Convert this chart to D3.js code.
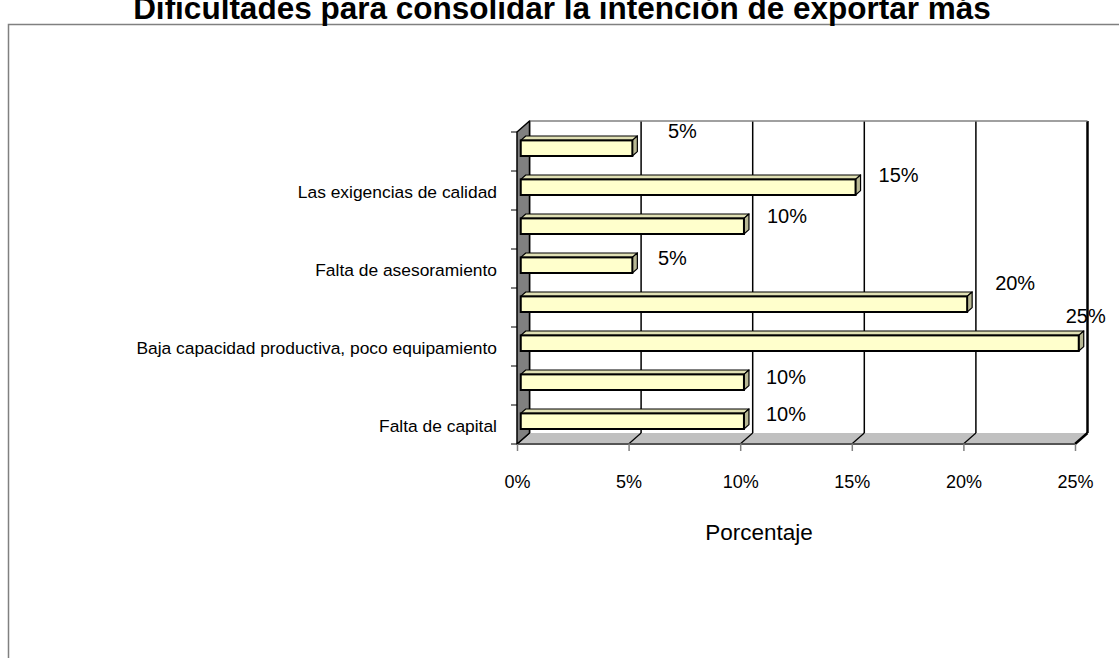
<!DOCTYPE html>
<html>
<head>
<meta charset="utf-8">
<script src="https://cdn.jsdelivr.net/npm/d3@7"></script>
<style>
  body { margin: 0; background: #fff; }
  text { font-family: Arial, "Liberation Sans", sans-serif; fill: #000; }
</style>
</head>
<body>
<div id="chart"></div>
<script>
// Data, bottom category first (as the spreadsheet lists it)
var categories = [
  "Falta de capital",
  "",
  "Baja capacidad productiva, poco equipamiento",
  "",
  "Falta de asesoramiento",
  "",
  "Las exigencias de calidad",
  ""
]
var values = [10, 10, 25, 20, 5, 10, 15, 5]
var xTicks = [0, 5, 10, 15, 20, 25]
var title = "Dificultades para consolidar la intención de exportar más"
var xTitle = "Porcentaje"

// label nudges (px) relative to the end of each bar, same order as values
var labelNudge = [[37, -7], [37, -5], [2, -27], [43, -21], [35, -7], [38, -10], [38, -12], [45, -17]]

var W = 1119, H = 658
var depth = { dx: 12.5, dy: -11 }
var barDepth = { front: 0.3, back: 0.7 }

var svg = d3.select("#chart").append("svg")
  .attr("width", W)
  .attr("height", H)

var x = d3.scaleLinear().domain([0, 25]).range([517, 1075])
// top of the plot is the last category
var y = d3.scaleBand()
  .domain(d3.range(categories.length).reverse())
  .range([132, 444])
  .paddingInner(0.6)
  .paddingOuter(0.3)

var y0 = y.range()[0], y1 = y.range()[1]
var x0 = x.range()[0], x1 = x.range()[1]

function pts(list) {
  return list.map(function (p) { return p[0] + "," + p[1] }).join(" ")
}

// outer frame (cut at right and bottom)
svg.append("path")
  .attr("d", "M8.5," + H + "V24.5H" + W)
  .attr("fill", "none")
  .attr("stroke", "#808080")
  .attr("stroke-width", 1.5)

// title, top is clipped by the page edge
svg.append("text")
  .attr("x", 562)
  .attr("y", 19)
  .attr("text-anchor", "middle")
  .attr("font-size", 31.5)
  .attr("font-weight", "bold")
  .text(title)

// floor
svg.append("polygon")
  .attr("points", pts([[x0, y1], [x1, y1], [x1 + depth.dx, y1 + depth.dy], [x0 + depth.dx, y1 + depth.dy]]))
  .attr("fill", "#c0c0c0")
  .attr("stroke", "none")

// back wall gridlines
svg.selectAll(".grid")
  .data(xTicks)
  .join("line")
  .attr("class", "grid")
  .attr("x1", function (d) { return x(d) + depth.dx })
  .attr("x2", function (d) { return x(d) + depth.dx })
  .attr("y1", y0 + depth.dy)
  .attr("y2", y1 + depth.dy)
  .attr("stroke", "#000")
  .attr("stroke-width", function (d, i) { return i == xTicks.length - 1 ? 2.5 : 1.5 })

// floor gridlines
svg.selectAll(".floorgrid")
  .data(xTicks)
  .join("line")
  .attr("class", "floorgrid")
  .attr("x1", function (d) { return x(d) })
  .attr("y1", y1)
  .attr("x2", function (d) { return x(d) + depth.dx })
  .attr("y2", y1 + depth.dy)
  .attr("stroke", "#000")
  .attr("stroke-width", function (d, i) { return i == xTicks.length - 1 ? 2.5 : 1.2 })

// back wall top edge
svg.append("line")
  .attr("x1", x0 + depth.dx).attr("x2", x1 + depth.dx)
  .attr("y1", y0 + depth.dy).attr("y2", y0 + depth.dy)
  .attr("stroke", "#808080")
  .attr("stroke-width", 1.5)

// floor front edge
svg.append("line")
  .attr("x1", x0).attr("x2", x1)
  .attr("y1", y1).attr("y2", y1)
  .attr("stroke", "#555")
  .attr("stroke-width", 2)

// left wall
svg.append("polygon")
  .attr("points", pts([[x0, y0], [x0 + depth.dx, y0 + depth.dy], [x0 + depth.dx, y1 + depth.dy], [x0, y1]]))
  .attr("fill", "#808080")
  .attr("stroke", "#000")
  .attr("stroke-width", 1.5)
  .attr("stroke-linejoin", "round")

// bars
var bars = svg.selectAll(".bar")
  .data(values.map(function (v, i) { return { v: v, i: i } }))
  .join("g")
  .attr("class", "bar")

function barGeom(d) {
  var f = barDepth.front, b = barDepth.back
  var top = y(d.i), bot = y(d.i) + y.bandwidth()
  return {
    lx: x0 + depth.dx * f,
    rx: x(d.v) + depth.dx * f,
    ty: top + depth.dy * f,
    by: bot + depth.dy * f,
    ox: depth.dx * (b - f),
    oy: depth.dy * (b - f)
  }
}

bars.append("polygon")
  .attr("points", function (d) {
    var g = barGeom(d)
    return pts([[g.lx, g.ty], [g.rx, g.ty], [g.rx + g.ox, g.ty + g.oy], [g.lx + g.ox, g.ty + g.oy]])
  })
  .attr("fill", "#e0e0b4")
  .attr("stroke", "#000")
  .attr("stroke-width", 1.2)
  .attr("stroke-linejoin", "round")

bars.append("polygon")
  .attr("points", function (d) {
    var g = barGeom(d)
    return pts([[g.rx, g.ty], [g.rx + g.ox, g.ty + g.oy], [g.rx + g.ox, g.by + g.oy], [g.rx, g.by]])
  })
  .attr("fill", "#b8b894")
  .attr("stroke", "#000")
  .attr("stroke-width", 1.2)
  .attr("stroke-linejoin", "round")

bars.append("rect")
  .attr("x", function (d) { return barGeom(d).lx })
  .attr("y", function (d) { return barGeom(d).ty })
  .attr("width", function (d) { var g = barGeom(d); return g.rx - g.lx })
  .attr("height", y.bandwidth())
  .attr("fill", "#ffffcc")
  .attr("stroke", "#000")
  .attr("stroke-width", 2)

// value labels
bars.append("text")
  .attr("x", function (d) { return x(d.v) + depth.dx * barDepth.back + labelNudge[d.i][0] })
  .attr("y", function (d) { var g = barGeom(d); return (g.ty + g.by) / 2 + labelNudge[d.i][1] })
  .attr("dy", "0.35em")
  .attr("text-anchor", "middle")
  .attr("font-size", 20)
  .text(function (d) { return d.v + "%" })

// category axis ticks, one at every band boundary
var catTicks = d3.range(categories.length + 1).map(function (k) { return y0 + k * (y1 - y0) / categories.length })
svg.selectAll(".ytick")
  .data(catTicks)
  .join("line")
  .attr("class", "ytick")
  .attr("x1", x0 - 6).attr("x2", x0)
  .attr("y1", function (d) { return d }).attr("y2", function (d) { return d })
  .attr("stroke", "#000")
  .attr("stroke-width", 1)

svg.selectAll(".ylabel")
  .data(categories.map(function (c, i) { return { c: c, i: i } }).filter(function (d) { return d.c }))
  .join("text")
  .attr("class", "ylabel")
  .attr("x", 497)
  .attr("y", function (d) { return y(d.i) + y.bandwidth() / 2 + 1 })
  .attr("dy", "0.35em")
  .attr("text-anchor", "end")
  .attr("font-size", 17.4)
  .text(function (d) { return d.c })

// value axis on the front edge
var xAxis = svg.append("g")
  .attr("transform", "translate(0," + y1 + ")")
  .call(d3.axisBottom(x).tickValues(xTicks).tickSize(7).tickPadding(24)
    .tickFormat(function (d) { return d + "%" }))
xAxis.select(".domain").remove()
xAxis.selectAll(".tick line").attr("stroke", "#808080").attr("stroke-width", 1.5)
xAxis.selectAll(".tick text")
  .attr("font-size", 18)
  .attr("font-family", "Arial, 'Liberation Sans', sans-serif")

svg.append("text")
  .attr("x", 759)
  .attr("y", 540)
  .attr("text-anchor", "middle")
  .attr("font-size", 22.5)
  .text(xTitle)
</script>
</body>
</html>
